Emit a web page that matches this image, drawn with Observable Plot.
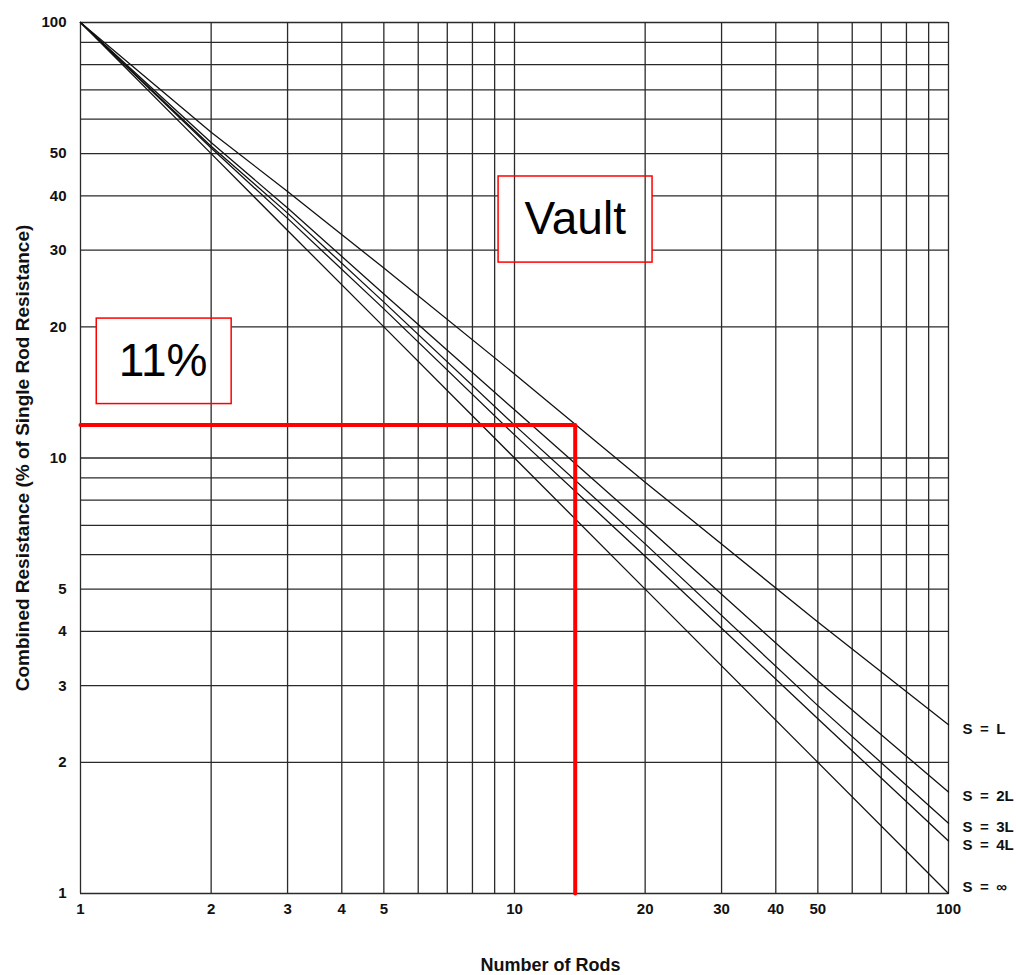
<!DOCTYPE html>
<html>
<head>
<meta charset="utf-8">
<script src="https://cdn.jsdelivr.net/npm/d3@7"></script>
<script src="https://cdn.jsdelivr.net/npm/@observablehq/plot@0.6"></script>
<style>
  body { margin: 0; background: #fff; }
</style>
</head>
<body>
<div id="chart"></div>
<script>
// Number of rods (x) and combined resistance in % of single rod (y)
const nRods = [1, 2, 3, 5, 10, 20, 50, 100];
const sL   = [100, 56, 40.9, 27.3, 15.6, 8.8, 4.2, 2.44];
const s2L  = [100, 53, 37.5, 23.8, 12.9, 7.0, 3.08, 1.71];
const s3L  = [100, 52, 36.5, 22.8, 11.9, 6.35, 2.7, 1.45];
const s4L  = [100, 51.5, 35.5, 22, 11.3, 5.95, 2.52, 1.32];
const sInf = [100, 50, 33.3, 20, 10, 5, 2, 1];
const seriesNames = ["S = L", "S = 2L", "S = 3L", "S = 4L", "S = ∞"];
const seriesValues = [sL, s2L, s3L, s4L, sInf];

const xTicks = [1, 2, 3, 4, 5, 10, 20, 30, 40, 50, 100];
const yTicks = [1, 2, 3, 4, 5, 10, 20, 30, 40, 50, 100];
const xGrid = [1, 2, 3, 4, 5, 6, 7, 8, 9, 10, 20, 30, 40, 50, 60, 70, 80, 90, 100];
const yGrid = [1, 2, 3, 4, 5, 6, 7, 8, 9, 10, 20, 30, 40, 50, 60, 70, 80, 90, 100];

// Red annotation: read-off point
const markRods = [1, 13.8, 13.8];
const markRes  = [11.9, 11.9, 1];

// Annotation boxes
const boxLabels = ["11%", "Vault"];
const boxX1 = [1.09, 9.19];
const boxX2 = [2.23, 20.8];
const boxY1 = [13.3, 28.1];
const boxY2 = [20.9, 44.3];
const boxCx = [1.55, 13.8];
const boxCy = [16.7, 35.3];

const yTitle = "Combined Resistance (% of Single Rod Resistance)";
const xTitle = "Number of Rods";

const lines = [];
seriesNames.forEach((name, i) => {
  nRods.forEach((n, j) => lines.push({series: name, n, r: seriesValues[i][j]}));
});
const ends = seriesNames.map((name, i) => ({series: name, n: nRods[nRods.length - 1], r: seriesValues[i][seriesValues[i].length - 1]}));
const endsMain = ends.filter(d => d.series !== "S = ∞");
const endsInf = ends.filter(d => d.series === "S = ∞");
const labelText = d => d.series.replace(/ /g, "\u2002");
const redPath = markRods.map((n, i) => ({n, r: markRes[i]}));
const boxes = boxLabels.map((t, i) => ({t, x1: boxX1[i], x2: boxX2[i], y1: boxY1[i], y2: boxY2[i], cx: boxCx[i], cy: boxCy[i]}));

const plot = Plot.plot({
  width: 1016,
  height: 975,
  marginLeft: 80,
  marginRight: 68,
  marginTop: 22,
  marginBottom: 82,
  style: {fontFamily: "'Liberation Sans', Arial, sans-serif", fontWeight: "bold", fontSize: "15px", color: "#111"},
  x: {type: "log", domain: [1, 100]},
  y: {type: "log", domain: [1, 100]},
  marks: [
    Plot.ruleY(yGrid, {stroke: "#2a2a2a", strokeWidth: 1.3}),
    Plot.rect(boxes, {x1: "x1", x2: "x2", y1: "y1", y2: "y2", fill: "white"}),
    Plot.ruleX(xGrid, {stroke: "#2a2a2a", strokeWidth: 1.3}),
    Plot.line(lines, {x: "n", y: "r", z: "series", stroke: "#111", strokeWidth: 1.3}),
    Plot.rect(boxes, {x1: "x1", x2: "x2", y1: "y1", y2: "y2", fill: "none", stroke: "#f00", strokeWidth: 1.5}),
    Plot.line(redPath, {x: "n", y: "r", stroke: "#ff0000", strokeWidth: 4}),
    Plot.text(boxes, {x: "cx", y: "cy", text: "t", fontSize: 46, fontWeight: "normal", fill: "#000", textAnchor: "middle", lineAnchor: "middle"}),
    Plot.text(endsMain, {x: "n", y: "r", text: labelText, textAnchor: "start", dx: 14, dy: 4, fontSize: 15}),
    Plot.text(endsInf, {x: "n", y: "r", text: labelText, textAnchor: "start", dx: 14, dy: -6, fontSize: 15}),
    Plot.axisX({ticks: xTicks, tickSize: 0, tickPadding: 10, tickFormat: d => String(d), label: null, fontSize: 15}),
    Plot.axisY({ticks: yTicks, tickSize: 0, tickPadding: 14, tickFormat: d => String(d), label: null, fontSize: 15}),
    Plot.text([yTitle], {frameAnchor: "left", textAnchor: "middle", lineAnchor: "middle", rotate: -90, dx: -58, fontSize: 19}),
    Plot.text([xTitle], {frameAnchor: "bottom", textAnchor: "middle", lineAnchor: "middle", dy: 72, dx: 36, fontSize: 18})
  ]
});
document.getElementById("chart").appendChild(plot);
</script>
</body>
</html>
